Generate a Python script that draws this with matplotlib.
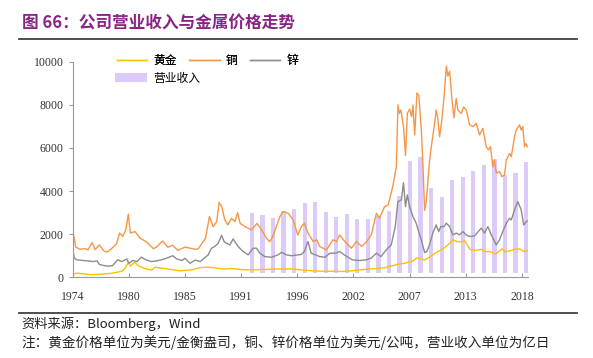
import matplotlib
matplotlib.use("Agg")
import matplotlib.pyplot as plt
from matplotlib.lines import Line2D

# ===== data =====
copper_t = [1974.5, 1974.8, 1975.2, 1975.7, 1976.0, 1976.4, 1976.7, 1977.1, 1977.6, 1977.9,
            1978.3, 1978.8, 1979.1, 1979.4, 1979.7, 1979.95, 1980.15, 1980.6, 1981.1, 1981.7,
            1982.4, 1982.7, 1983.3, 1983.8, 1984.3, 1984.8, 1985.5, 1986.0, 1986.5, 1986.8,
            1987.2, 1987.5, 1987.9, 1988.25, 1988.6, 1988.85, 1989.1, 1989.4, 1989.7, 1990.05,
            1990.4, 1990.65, 1990.9, 1991.4, 1992.0, 1992.55, 1993.0, 1993.5, 1993.8, 1994.1,
            1994.8, 1995.1, 1995.6, 1996.1, 1996.55, 1996.9, 1997.2, 1997.55, 1998.05, 1998.4,
            1998.7, 1999.35, 2000.0, 2000.35, 2000.65, 2001.15, 2001.8, 2002.3, 2002.8, 2003.3,
            2003.75, 2004.25, 2004.55, 2005.05, 2005.4, 2005.85, 2006.2, 2006.36, 2006.5, 2006.65,
            2006.9, 2007.1, 2007.28, 2007.5, 2007.7, 2007.83, 2008.0, 2008.22, 2008.4, 2008.65,
            2008.8, 2008.97, 2009.14, 2009.46, 2009.63, 2009.95, 2010.1, 2010.25, 2010.44, 2010.66,
            2010.86, 2011.1, 2011.25, 2011.42, 2011.64, 2011.84, 2012.07, 2012.23, 2012.56, 2012.79,
            2013.05, 2013.38, 2013.7, 2014.03, 2014.35, 2014.68, 2015.0, 2015.23, 2015.43, 2015.65,
            2015.82, 2015.99, 2016.31, 2016.54, 2016.8, 2016.97, 2017.3, 2017.46, 2017.78, 2017.94,
            2018.27, 2018.43, 2018.59, 2018.76, 2018.92, 2019.02]
copper_v = [2200, 1400, 1300, 1330, 1270, 1610, 1280, 1500, 1200, 1180,
            1330, 1560, 2050, 1900, 2200, 2930, 2050, 2120, 1820, 1650,
            1330, 1400, 1680, 1400, 1480, 1250, 1400, 1350, 1300, 1320,
            1600, 1800, 2820, 2350, 2580, 3470, 3280, 2660, 2430, 2740,
            2580, 3000, 2500, 2350, 2200, 2500, 2200, 1800, 1650, 1890,
            2820, 3050, 2970, 2660, 1960, 2350, 2510, 2050, 1660, 1740,
            1430, 1270, 1740, 1660, 1970, 1660, 1350, 1660, 1430, 1660,
            1970, 2970, 2740, 3280, 3360, 4210, 5130, 8000, 7600, 7760,
            6990, 5650, 7600, 7800, 7450, 7990, 6600, 8550, 8450, 6830,
            5290, 3100, 3550, 5440, 6060, 7140, 7760, 7380, 6520, 7300,
            8300, 9800, 9330, 9560, 8300, 7400, 8300, 7760, 7600, 7900,
            7760, 7070, 6990, 7140, 6600, 6910, 6060, 5910, 6060, 5130,
            5440, 4830, 4900, 4670, 4750, 5440, 5750, 5590, 6520, 6830,
            7070, 6830, 6990, 6060, 6200, 6060]

zinc_t = [1974.5, 1974.65, 1974.9, 1975.5, 1976.0, 1976.5, 1976.9, 1977.1, 1977.6, 1978.0,
          1978.4, 1978.9, 1979.3, 1979.8, 1980.0, 1980.4, 1980.8, 1981.2, 1981.7, 1982.2,
          1982.7, 1983.2, 1983.6, 1984.3, 1984.7, 1985.2, 1985.5, 1986.0, 1986.5, 1987.0,
          1987.3, 1987.77, 1988.1, 1988.42, 1988.75, 1989.08, 1989.33, 1989.57, 1989.89, 1990.21,
          1990.38, 1990.7, 1991.19, 1991.68, 1992.17, 1992.5, 1992.83, 1993.32, 1993.97, 1994.62,
          1994.95, 1995.44, 1995.93, 1996.57, 1996.9, 1997.2, 1997.55, 1997.85, 1998.7, 1999.2,
          1999.7, 2000.3, 2000.65, 2001.1, 2001.9, 2002.6, 2003.25, 2003.75, 2004.25, 2004.7,
          2005.2, 2005.7, 2006.1, 2006.35, 2006.7, 2006.9, 2007.1, 2007.28, 2007.5, 2007.83,
          2008.15, 2008.4, 2008.65, 2008.97, 2009.2, 2009.45, 2009.78, 2010.1, 2010.35, 2010.55,
          2010.87, 2011.1, 2011.42, 2011.74, 2012.07, 2012.4, 2012.72, 2013.05, 2013.38, 2013.86,
          2014.52, 2014.84, 2015.17, 2015.5, 2015.99, 2016.31, 2016.63, 2016.97, 2017.3, 2017.46,
          2017.78, 2018.1, 2018.43, 2018.68, 2019.02]
zinc_v = [1300, 900, 810, 780, 760, 730, 760, 600, 540, 520,
          540, 810, 730, 850, 650, 780, 730, 930, 810, 730,
          760, 810, 870, 1000, 850, 780, 880, 650, 800, 730,
          850, 1040, 1350, 1430, 1580, 1950, 1660, 1580, 1500, 1780,
          1660, 1430, 1200, 1040, 1350, 1350, 1120, 960, 930, 1040,
          1160, 1040, 1000, 1040, 1060, 1200, 1660, 1120, 960, 930,
          1120, 1120, 1200, 1040, 810, 780, 810, 890, 1120, 960,
          1270, 1500, 2350, 3510, 3590, 4390, 3280, 3820, 3280, 2820,
          2500, 2100, 1740, 1150, 1200, 1500, 2050, 2430, 2120, 2350,
          2350, 2510, 2350, 1970, 2050, 1970, 2120, 1970, 1890, 1920,
          2280, 2050, 2350, 1970, 1500, 1740, 2120, 2510, 2740, 2660,
          3130, 3510, 3130, 2430, 2620]

gold_t = [1974.5, 1975.0, 1975.6, 1976.3, 1976.8, 1977.5, 1978.2, 1978.8, 1979.3, 1979.6,
          1979.95, 1980.15, 1980.55, 1981.0, 1981.5, 1982.2, 1982.6, 1983.1, 1983.6, 1984.3,
          1985.0, 1985.5, 1986.2, 1987.0, 1987.8, 1988.5, 1989.3, 1990.0, 1991.0, 1992.0,
          1993.0, 1994.0, 1995.0, 1996.0, 1997.0, 1998.0, 1999.0, 2000.0, 2001.0, 2002.0,
          2003.0, 2004.0, 2005.0, 2006.0, 2006.5, 2007.0, 2007.8, 2008.2, 2008.6, 2008.97,
          2009.5, 2010.0, 2010.5, 2011.0, 2011.6, 2011.75, 2012.1, 2012.6, 2012.9, 2013.4,
          2013.9, 2014.5, 2014.9, 2015.4, 2015.9, 2016.6, 2016.9, 2017.5, 2018.0, 2018.3,
          2018.7, 2019.02]
gold_v = [160, 190, 160, 120, 130, 150, 180, 230, 280, 400,
          690, 520, 700, 520, 420, 330, 470, 430, 400, 350,
          300, 320, 350, 450, 470, 430, 380, 410, 360, 340,
          360, 380, 385, 390, 340, 300, 280, 280, 270, 310,
          360, 400, 440, 560, 620, 650, 750, 900, 860, 800,
          950, 1120, 1250, 1400, 1660, 1740, 1660, 1640, 1700, 1300,
          1240, 1300, 1200, 1190, 1080, 1320, 1170, 1250, 1320, 1310,
          1200, 1240]

rev_years = list(range(1992, 2019))
revenue = [2800, 2690, 2540, 2910, 3000, 3270, 3320, 2830, 2620, 2740,
           2510, 2510, 2650, 2900, 3600, 5190, 5410, 3940, 3520, 4330,
           4440, 4760, 5020, 5280, 4570, 4650, 5140]

tick_pos = [1974.5, 1980.0, 1985.5, 1991.0, 1996.5, 2002.0, 2007.5, 2013.0, 2018.5]
tick_lab = ["1974", "1980", "1985", "1991", "1996", "2002", "2007", "2013", "2018"]

# ===== figure =====
plt.rcParams["font.family"] = ["Liberation Serif", "DejaVu Serif"]
cjk = ["Noto Sans CJK SC", "DejaVu Sans"]

fig = plt.figure(figsize=(5.93, 3.58), dpi=100)
rect = [72.7 / 593, 1 - 277.3 / 358, (527.5 - 72.7) / 593, (277.3 - 61.7) / 358]

# bars on their own (category) axes, behind the lines
axb = fig.add_axes(rect)
bars = axb.bar([y - 1992 for y in rev_years], revenue, width=0.4, color="#DCCBF8",
               label="营业收入")
axb.set_xlim(-17.0, 26.14)
axb.set_ylim(-185, 9805)
axb.axis("off")

ax = fig.add_axes(rect)
ax.patch.set_visible(False)
l_gold, = ax.plot(gold_t, gold_v, color="#FFC000", lw=1.0, label="黄金")
l_cu, = ax.plot(copper_t, copper_v, color="#F79646", lw=1.0, label="铜")
l_zn, = ax.plot(zinc_t, zinc_v, color="#8C8C8C", lw=1.0, label="锌")

ax.set_xlim(1974.5, 2019.05)
ax.set_ylim(0, 10000)
ax.set_yticks(range(0, 10001, 2000))
ax.set_xticks(tick_pos)
ax.set_xticklabels(tick_lab)
for s in ["top", "right"]:
    ax.spines[s].set_visible(False)
for s in ["left", "bottom"]:
    ax.spines[s].set_color("#999999")
    ax.spines[s].set_linewidth(0.8)
ax.tick_params(axis="y", direction="out", length=3, width=0.8, color="#999999",
               labelsize=8.5, pad=3.5, labelcolor="#333333")
ax.tick_params(axis="x", direction="in", length=3, width=0.8, color="#999999",
               labelsize=8.5, pad=10, labelcolor="#333333")

# legends
leg1 = fig.legend(handles=[l_gold, l_cu, l_zn], loc="center left",
                  bbox_to_anchor=(117 / 593, 1 - 60.7 / 358), ncol=3, frameon=False,
                  prop={"family": cjk, "size": 8.5}, handlelength=2.55,
                  handletextpad=0.5, columnspacing=1.1, borderpad=0, borderaxespad=0)
fig.legend(handles=[bars], loc="center left",
           bbox_to_anchor=(115 / 593, 1 - 78.3 / 358), frameon=False,
           prop={"family": cjk, "size": 8.5}, handlelength=2.7, handleheight=0.75,
           handletextpad=0.5, borderpad=0, borderaxespad=0)
fig.add_artist(leg1)

# title, rules, notes
fig.text(21.7 / 593, 1 - 24 / 358, "图 66：公司营业收入与金属价格走势", family=cjk,
         fontsize=12, fontweight="bold", color="#8B2387", va="center", ha="left")
fig.add_artist(Line2D([19 / 593, 577 / 593], [1 - 39 / 358] * 2, color="#404040", lw=1.3))
fig.add_artist(Line2D([19 / 593, 577 / 593], [1 - 313.3 / 358] * 2, color="#404040", lw=1.3))
fig.text(21.7 / 593, 1 - 324 / 358, "资料来源：Bloomberg，Wind", family=cjk,
         fontsize=9.5, color="#222222", va="center", ha="left")
fig.text(21.7 / 593, 1 - 342.5 / 358,
         "注：黄金价格单位为美元/金衡盎司，铜、锌价格单位为美元/公吨，营业收入单位为亿日",
         family=cjk, fontsize=9.8, color="#222222", va="center", ha="left")

fig.savefig("out.png", dpi=100)
